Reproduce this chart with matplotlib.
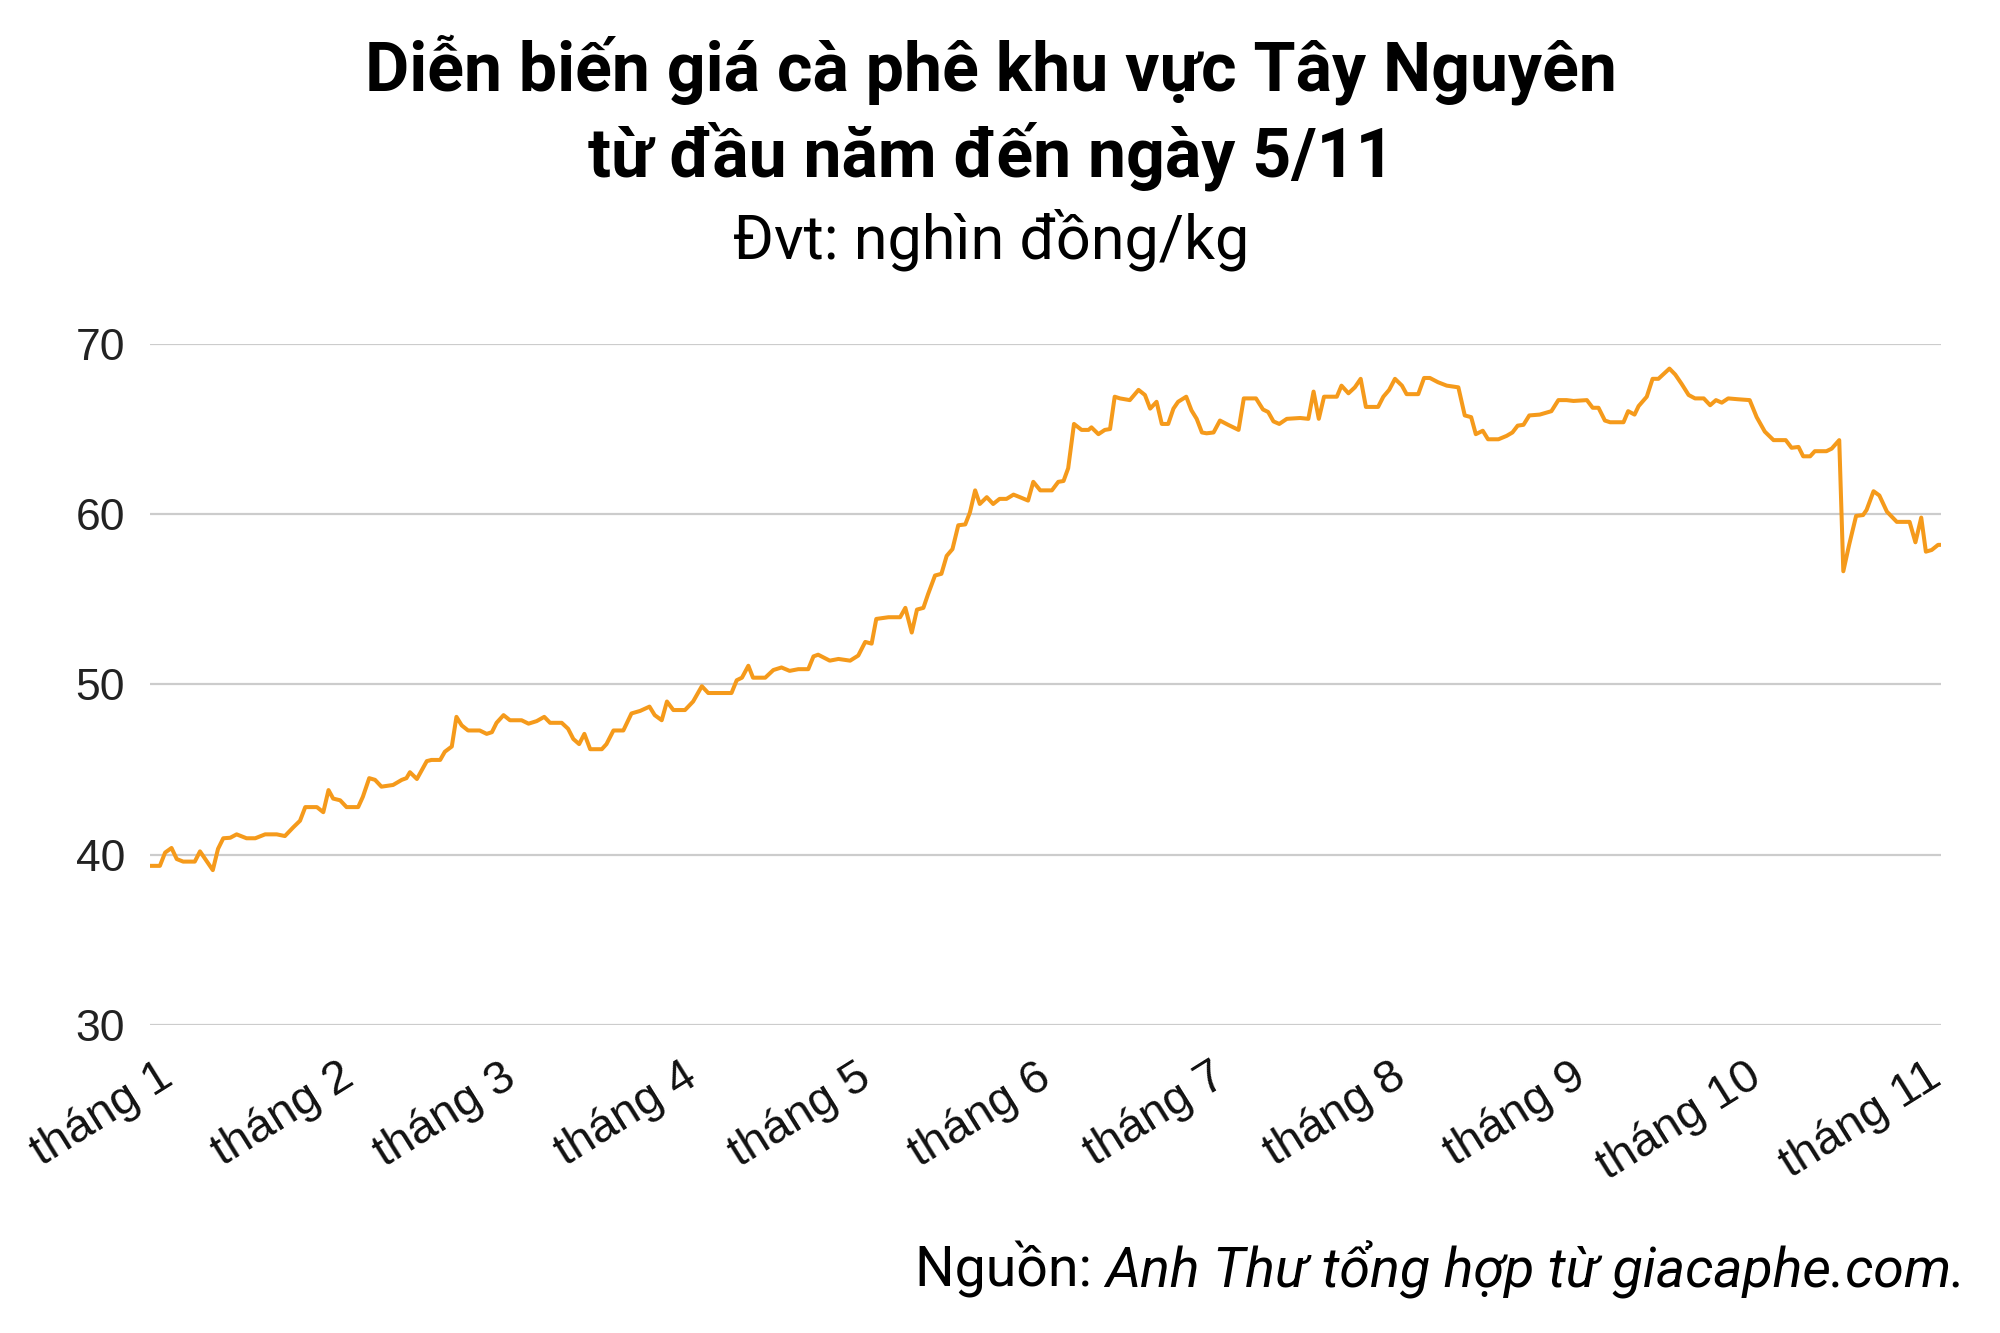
import matplotlib
matplotlib.use("Agg")
import matplotlib.pyplot as plt
import matplotlib.transforms as mtransforms

# ---- data (day offset from 1 Jan, price in thousand VND/kg) ----
days = [0, 1.7, 2.6, 3.7, 4.6, 5.7, 7.7, 8.6, 9.8, 10.8, 11.7, 12.6, 13.8, 14.9, 16.6, 18.1, 19.8,
        21.8, 23.2, 24.6, 25.8, 26.7, 28.7, 29.8, 30.7, 31.5, 32.7, 33.8, 35.8, 36.6, 37.7, 38.7,
        39.8, 41.8, 43.3, 44.1, 44.7, 45.9, 47.6, 48.4, 49.9, 50.7, 51.9, 52.7, 53.6, 54.7, 56.7,
        57.9, 58.8, 59.6, 60.8, 61.9, 63.9, 65.1, 66.5, 67.8, 68.8, 70.8, 71.9, 72.8, 73.8, 74.7,
        75.7, 77.7, 78.5, 79.7, 81.4, 82.8, 84.3, 85.9, 86.8, 88.0, 88.9, 90.0, 92.0, 93.4, 94.9,
        96.0, 100.0, 100.9, 101.8, 102.9, 103.7, 105.8, 107.2, 108.6, 110.0, 111.5, 113.2, 114.1,
        114.9, 116.9, 118.4, 120.4, 121.8, 123.0, 124.1, 124.9, 127.0, 129.0, 129.9, 131.0, 131.9,
        133.0, 133.8, 135.0, 136.1, 137.0, 138.0, 139.0, 140.2, 141.0, 141.9, 142.7, 143.9, 145.0,
        146.1, 147.3, 148.5, 149.6, 151.0, 151.9, 153.1, 155.1, 156.2, 157.1, 157.9, 158.9, 160.2,
        161.4, 161.9, 163.1, 164.2, 165.1, 165.9, 166.8, 168.5, 170.0, 171.1, 172.0, 173.1, 174.0,
        175.1, 176.0, 176.8, 178.2, 179.1, 180.0, 180.9, 181.7, 182.9, 184.0, 185.4, 187.2, 188.1,
        190.2, 191.4, 192.3, 193.2, 194.2, 195.5, 197.8, 199.2, 200.1, 201.0, 201.9, 204.1, 204.9,
        206.1, 207.2, 208.2, 209.1, 211.2, 212.1, 213.1, 214.1, 215.3, 216.1, 218.1, 219.1, 220.1,
        221.5, 223.0, 225.0, 226.1, 227.2, 228.0, 229.2, 230.1, 231.9, 233.3, 234.3, 235.2, 236.2,
        237.2, 239.0, 241.0, 242.2, 243.6, 244.8, 247.1, 248.1, 249.1, 250.2, 251.1, 253.4, 254.2,
        255.3, 256.0, 257.4, 258.4, 259.4, 261.3, 262.3, 263.4, 264.6, 265.7, 267.2, 268.3, 269.3,
        270.3, 271.4, 273.1, 275.1, 276.3, 277.7, 279.2, 281.3, 282.3, 283.5, 284.3, 285.5, 286.3,
        288.3, 289.2, 290.5, 291.2, 292.2, 293.4, 294.6, 295.2, 296.4, 297.4, 298.7, 300.4, 302.6,
        303.6, 304.6, 305.4, 306.4, 307.5, 308]
prices = [39.35, 39.35, 40.13, 40.4, 39.75, 39.6, 39.6, 40.2, 39.6, 39.1, 40.35, 40.97, 41.0, 41.2,
          40.97, 40.97, 41.2, 41.2, 41.1, 41.6, 42.0, 42.8, 42.8, 42.5, 43.8, 43.3, 43.2, 42.8,
          42.8, 43.4, 44.5, 44.4, 44.0, 44.1, 44.4, 44.5, 44.85, 44.45, 45.5, 45.57, 45.57, 46.05,
          46.36, 48.1, 47.6, 47.3, 47.3, 47.1, 47.2, 47.75, 48.2, 47.9, 47.9, 47.7, 47.85, 48.1,
          47.75, 47.75, 47.4, 46.8, 46.5, 47.1, 46.2, 46.2, 46.5, 47.3, 47.3, 48.3, 48.45, 48.7,
          48.2, 47.9, 49.0, 48.5, 48.5, 49.0, 49.9, 49.5, 49.5, 50.25, 50.4, 51.1, 50.4, 50.4,
          50.85, 51.0, 50.8, 50.9, 50.9, 51.65, 51.75, 51.4, 51.5, 51.4, 51.7, 52.5, 52.4, 53.85,
          53.95, 53.95, 54.5, 53.05, 54.4, 54.5, 55.3, 56.4, 56.5, 57.55, 57.95, 59.35, 59.4,
          60.1, 61.4, 60.6, 61.0, 60.6, 60.9, 60.9, 61.15, 61.0, 60.8, 61.9, 61.4, 61.4, 61.9,
          61.95, 62.7, 65.3, 64.95, 64.95, 65.1, 64.7, 64.95, 65.0, 66.9, 66.8, 66.7, 67.3, 67.0,
          66.2, 66.6, 65.3, 65.3, 66.2, 66.6, 66.9, 66.1, 65.6, 64.8, 64.75, 64.8, 65.5, 65.25,
          64.95, 66.8, 66.8, 66.15, 66.0, 65.45, 65.3, 65.6, 65.65, 65.6, 67.2, 65.6, 66.9, 66.9,
          67.55, 67.1, 67.45, 67.95, 66.3, 66.3, 66.9, 67.3, 67.95, 67.55, 67.05, 67.05, 68.0,
          68.0, 67.75, 67.55, 67.45, 65.8, 65.7, 64.7, 64.9, 64.4, 64.4, 64.6, 64.8, 65.2, 65.25,
          65.8, 65.85, 66.05, 66.7, 66.7, 66.65, 66.7, 66.25, 66.25, 65.5, 65.4, 65.4, 66.05,
          65.85, 66.35, 66.9, 67.95, 67.95, 68.55, 68.2, 67.65, 67.0, 66.8, 66.8, 66.4, 66.7,
          66.55, 66.8, 66.75, 66.7, 65.7, 64.85, 64.35, 64.35, 63.9, 63.95, 63.4, 63.4, 63.7,
          63.7, 63.85, 64.35, 56.65, 58.2, 59.9, 59.95, 60.25, 61.35, 61.1, 60.15, 59.55, 59.55,
          58.35, 59.8, 57.8, 57.9, 58.2, 58.2]
month_start_days = [0, 31, 59, 90, 120, 151, 181, 212, 243, 273, 304]
month_labels = ["tháng 1", "tháng 2", "tháng 3", "tháng 4", "tháng 5", "tháng 6",
                "tháng 7", "tháng 8", "tháng 9", "tháng 10", "tháng 11"]
y_ticks = [30, 40, 50, 60, 70]

title_line1 = "Diễn biến giá cà phê khu vực Tây Nguyên"
title_line2 = "từ đầu năm đến ngày 5/11"
subtitle = "Đvt: nghìn đồng/kg"
source_prefix = "Nguồn: "
source_body = "Anh Thư tổng hợp từ giacaphe.com."

DPI = 100
fig = plt.figure(figsize=(20, 13.33), dpi=DPI)
fig.patch.set_facecolor("white")
ax = fig.add_axes([0.075, 0.231, 0.8955, 0.511])

ax.plot(days, prices, color="#F59A1B", lw=2.9, solid_joinstyle="round", zorder=3)
ax.set_xlim(0, 308)
ax.set_ylim(30, 70)

for s in ax.spines.values():
    s.set_visible(False)
ax.set_yticks(y_ticks)
ax.yaxis.grid(True, color="#cccccc", lw=1.6)
ax.set_axisbelow(True)
ax.tick_params(axis="y", length=0, pad=18, labelsize=32, labelcolor="#222222")
for lab in ax.get_yticklabels():
    lab.set_fontfamily("Liberation Sans")

ax.set_xticks(month_start_days)
ax.set_xticklabels(month_labels, rotation=32, ha="right", va="top",
                   fontsize=34, color="#111111", family="Liberation Sans")
ax.tick_params(axis="x", length=0, pad=21)
offset = mtransforms.ScaledTranslation(31 / DPI, 0, fig.dpi_scale_trans)
for lab in ax.get_xticklabels():
    lab.set_transform(lab.get_transform() + offset)

# titles
fig.text(0.4955, 1 - 70 / 1333, title_line1, ha="center", va="center",
         fontsize=49, fontweight="bold", family="Roboto", color="#000000")
fig.text(0.4955, 1 - 156 / 1333, title_line2, ha="center", va="center",
         fontsize=49, fontweight="bold", family="Roboto", color="#000000")
fig.text(0.4955, 1 - 240 / 1333, subtitle, ha="center", va="center",
         fontsize=44, family="Roboto", color="#000000")

# source
fig.canvas.draw()
r = fig.canvas.get_renderer()
t_body = fig.text(1966 / 2000, 1 - 1286 / 1333, source_body, ha="right", va="baseline",
                  fontsize=40, style="italic", family="Roboto", color="#000000")
bb = t_body.get_window_extent(renderer=r)
fig.text(bb.x0 / fig.bbox.width, 1 - 1286 / 1333, source_prefix, ha="right", va="baseline",
         fontsize=40, family="Roboto", color="#000000")

fig.savefig("out.png", dpi=DPI, facecolor="white")
